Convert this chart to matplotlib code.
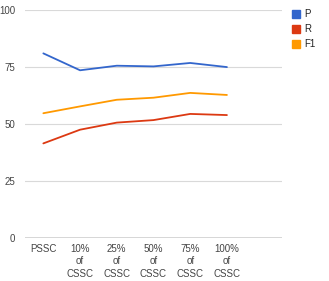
import matplotlib
matplotlib.use("Agg")
import matplotlib.pyplot as plt
from matplotlib.patches import Rectangle

# data
categories = ["PSSC", "10%\nof\nCSSC", "25%\nof\nCSSC", "50%\nof\nCSSC", "75%\nof\nCSSC", "100%\nof\nCSSC"]
p_vals = [80.8, 73.4, 75.4, 75.1, 76.6, 74.8]
r_vals = [41.4, 47.4, 50.5, 51.6, 54.3, 53.8]
f1_vals = [54.6, 57.6, 60.5, 61.4, 63.5, 62.6]
series_names = ["P", "R", "F1"]
colors = ["#3366CC", "#DC3912", "#FF9900"]
y_ticks = [0, 25, 50, 75, 100]

plt.rcParams['font.family'] = ['Liberation Sans', 'DejaVu Sans']

W, H = 329, 281
fig = plt.figure(figsize=(W / 100, H / 100), dpi=100)
ax = fig.add_axes([25 / W, (H - 238) / H, (282 - 25) / W, (238 - 9.5) / H])

x = list(range(len(categories)))
for vals, c in zip([p_vals, r_vals, f1_vals], colors):
    ax.plot(x, vals, color=c, lw=1.3, solid_capstyle='round')

ax.set_xlim(-0.5, 6.5)
ax.set_ylim(0, 100)
ax.set_yticks(y_ticks)
ax.set_yticklabels([str(t) for t in y_ticks])
for t in y_ticks[1:]:
    ax.axhline(t, color="#d9d9d9", lw=0.8, zorder=0)
ax.axhline(0, color="#333333", lw=1.0, zorder=3)

ax.set_xticks(x)
ax.set_xticklabels(categories, linespacing=1.35)
ax.tick_params(axis='both', length=0, labelsize=7, colors="#444444")
ax.tick_params(axis='x', pad=4)
ax.tick_params(axis='y', pad=7)
for s in ax.spines.values():
    s.set_visible(False)

# legend on the right, Google-chart style
for i, (name, c) in enumerate(zip(series_names, colors)):
    yc = 14 + i * 15
    fig.patches.append(Rectangle((292 / W, (H - yc - 4) / H), 8 / W, 8 / H,
                                 transform=fig.transFigure, color=c))
    fig.text(304 / W, (H - yc) / H, name, fontsize=7, color="#222222", va='center')

fig.savefig("out.png", dpi=100)
